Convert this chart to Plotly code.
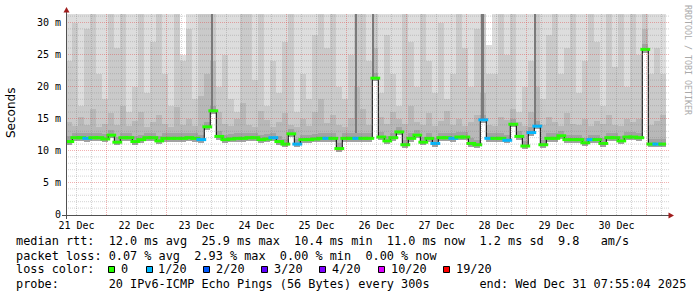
import plotly.graph_objects as go

# ---------------- data ----------------
BIN_HOURS = 2.4          # one column of smoke = 2.4 h, 100 columns = 10 days
median_ms = [11.4, 12.0, 12.0, 11.9, 12.0, 12.0, 11.8, 12.4, 11.3, 12.0,
             12.0, 11.4, 11.7, 12.0, 12.0, 11.5, 11.9, 11.9, 11.9, 11.9,
             12.0, 11.9, 11.7, 13.7, 16.2, 12.2, 11.7, 11.8, 11.9, 11.9,
             12.0, 12.0, 11.7, 11.8, 12.0, 11.4, 11.0, 12.6, 11.0, 11.7,
             11.7, 11.8, 11.9, 11.9, 11.9, 10.3, 11.9, 11.9, 11.9, 11.9,
             11.9, 21.3, 12.1, 11.5, 12.0, 12.9, 10.9, 11.9, 12.4, 11.3,
             11.9, 11.1, 12.0, 12.0, 11.9, 12.1, 12.1, 11.1, 10.9, 14.8,
             11.9, 11.9, 11.9, 11.6, 14.1, 12.2, 10.7, 12.8, 13.8, 10.9,
             11.9, 11.9, 12.3, 11.7, 11.7, 11.7, 11.2, 11.7, 11.7, 11.1,
             12.0, 12.0, 11.5, 12.1, 12.1, 12.0, 25.8, 11.0, 11.0, 11.0]
loss_of_20 = [0, 0, 0, 1, 0, 0, 0, 0, 0, 0,
              0, 0, 0, 0, 0, 0, 0, 0, 0, 0,
              0, 0, 1, 0, 0, 0, 0, 0, 0, 0,
              0, 0, 0, 0, 1, 0, 0, 0, 1, 0,
              0, 0, 0, 1, 0, 0, 0, 0, 1, 0,
              0, 0, 0, 0, 0, 0, 0, 0, 0, 0,
              0, 1, 0, 0, 1, 0, 0, 0, 0, 1,
              1, 0, 0, 1, 0, 0, 0, 1, 1, 0,
              0, 0, 0, 0, 0, 0, 0, 1, 0, 0,
              0, 0, 0, 0, 0, 0, 0, 0, 1, 0]
smoke_dark_top = [14.5, 13.8, 15.2, 14.0, 16.5, 13.6, 14.2, 15.8, 14.0, 17.0,
                  13.8, 14.6, 16.0, 13.7, 14.4, 15.5, 14.1, 13.6, 16.8, 14.0,
                  15.0, 13.9, 18.5, 22.0, 24.0, 16.0, 14.2, 13.8, 15.0, 17.5,
                  14.0, 13.6, 16.2, 14.8, 13.7, 14.5, 15.8, 14.0, 13.6, 14.9,
                  13.8, 16.0, 18.0, 14.3, 15.5, 14.0, 13.7, 15.1, 20.0, 16.5,
                  14.0, 26.0, 15.2, 14.1, 16.0, 15.0, 14.2, 17.0, 14.5, 14.0,
                  15.8, 13.9, 14.6, 16.2, 14.0, 15.0, 13.8, 14.4, 15.6, 19.0,
                  14.0, 13.9, 15.2, 14.8, 16.5, 14.4, 13.8, 16.0, 20.0, 14.0,
                  15.2, 14.5, 13.9, 15.8, 14.2, 14.0, 15.0, 13.9, 14.6, 14.1,
                  15.5, 14.0, 13.8, 15.0, 14.4, 14.9, 29.0, 14.0, 14.6, 15.5]
smoke_mid_top = [24, 30, 17, 29, 34, 22, 18, 34, 26, 34,
                 16, 20, 34, 19, 27, 34, 22, 17, 34, 24,
                 29, 18, 34, 34, 34, 20, 25, 18, 16, 34,
                 34, 21, 34, 17, 24, 19, 27, 34, 16, 22,
                 18, 28, 34, 26, 34, 20, 18, 25, 34, 34,
                 24, 34, 19, 28, 22, 17, 34, 27, 20, 34,
                 24, 19, 30, 18, 22, 34, 26, 20, 29, 34,
                 22, 22, 34, 25, 34, 16, 20, 24, 34, 18,
                 28, 34, 22, 26, 34, 19, 24, 34, 27, 17,
                 34, 23, 34, 20, 34, 25, 34, 22, 26, 22]
smoke_light_top = [34, 34, 34, 34, 34, 34, 34, 34, 34, 34,
                   34, 34, 34, 34, 34, 34, 34, 34, 34, 25,
                   34, 34, 34, 34, 34, 34, 34, 34, 34, 34,
                   34, 34, 34, 34, 34, 34, 34, 34, 34, 34,
                   34, 34, 34, 34, 34, 34, 34, 34, 34, 34,
                   34, 34, 34, 34, 34, 34, 34, 34, 34, 34,
                   34, 34, 34, 34, 34, 34, 34, 34, 34, 34,
                   26.5, 34, 29.5, 34, 34, 34, 34, 34, 34, 34,
                   34, 34, 34, 34, 34, 34, 34, 34, 34, 34,
                   34, 34, 34, 34, 34, 34, 34, 34, 34, 34]
spike_hours = [58.3, 115.9, 122.6, 166.5, 187.6]
spike_base_ms = [16.3, 12.7, 21.3, 14.8, 14.0]
spike_top_ms = [34, 34, 34, 34, 34]

day_labels = ["21 Dec", "22 Dec", "23 Dec", "24 Dec", "25 Dec",
              "26 Dec", "27 Dec", "28 Dec", "29 Dec", "30 Dec"]
first_noon_hour = 4.082       # 21 Dec 12:00 relative to start (21 Dec 07:55:04)
first_midnight_hour = 16.082
y_tick_vals = [0, 5, 10, 15, 20, 25, 30]
y_tick_text = ["0", "5 m", "10 m", "15 m", "20 m", "25 m", "30 m"]

loss_labels = ["0", "1/20", "2/20", "3/20", "4/20", "10/20", "19/20"]
loss_levels = [0, 1, 2, 3, 4, 10, 19]
loss_colors = ["#26ff00", "#00b8ff", "#0059ff", "#5e00ff", "#7e00ff", "#dd00ff", "#ff0000"]

stats_rtt = "median rtt:  12.0 ms avg  25.9 ms max  10.4 ms min  11.0 ms now  1.2 ms sd  9.8   am/s"
stats_loss = "packet loss: 0.07 % avg  2.93 % max  0.00 % min  0.00 % now"
stats_probe = "probe:       20 IPv6-ICMP Echo Pings (56 Bytes) every 300s       end: Wed Dec 31 07:55:04 2025"

# ---------------- layout geometry ----------------
W, H = 697, 297
PL, PR, PT, PB = 66, 666, 14, 215
TOTAL_HOURS = 240.0
X0 = -0.118                 # puts 6-hour grid lines on pixel centres
PX_PER_MS = 6.4
Y0 = -0.078                 # puts 5 ms grid lines on pixel centres
Y1 = Y0 + (PB - PT) / PX_PER_MS
MONO = "DejaVu Sans Mono"


def px(xp):
    return (xp - PL) / (PR - PL)


def py(yp):
    return (PB - yp) / (PB - PT)


n = len(median_ms)
centers = [(i + 0.5) * BIN_HOURS for i in range(n)]
lefts = [i * BIN_HOURS for i in range(n)]
LOW_SPREAD = 0.5
CORE_SPREAD = 0.8
base = [m - LOW_SPREAD for m in median_ms]


def loss_color(v):
    c = loss_colors[0]
    for lv, col in zip(loss_levels, loss_colors):
        if v >= lv:
            c = col
    return c


fig = go.Figure()


def smoke_layer(tops, color):
    fig.add_trace(go.Bar(
        x=centers, y=[t - b for t, b in zip(tops, base)], base=base,
        width=BIN_HOURS, marker=dict(color=color, line=dict(width=0)),
        hoverinfo="skip", showlegend=False))


smoke_layer(smoke_light_top, "#dddddd")
smoke_layer(smoke_mid_top, "#cacaca")
smoke_layer(smoke_dark_top, "#b8b8b8")
smoke_layer([m + CORE_SPREAD for m in median_ms], "#a2a2a2")

fig.add_trace(go.Bar(
    x=spike_hours, y=[t - b for t, b in zip(spike_top_ms, spike_base_ms)],
    base=spike_base_ms, width=0.9,
    marker=dict(color="#7a7a7a", line=dict(width=0)),
    hoverinfo="skip", showlegend=False))

fig.add_trace(go.Scatter(
    x=lefts + [TOTAL_HOURS], y=median_ms + [median_ms[-1]], mode="lines",
    line=dict(color="#000000", width=1, shape="hv"),
    hoverinfo="skip", showlegend=False))

fig.add_trace(go.Scatter(
    x=centers, y=median_ms, mode="markers",
    marker=dict(symbol="line-ew", size=7,
                line=dict(width=3, color=[loss_color(v) for v in loss_of_20])),
    hoverinfo="skip", showlegend=False))

# ---------------- grid (drawn above the smoke, like rrdtool) ----------------
shapes = []
MINOR = "rgba(120,120,120,0.32)"
MAJOR = "rgba(225,70,70,0.42)"
DASH = "1px,1px"
h = first_midnight_hour - 12
while h < TOTAL_HOURS + X0:
    is_major = abs(((h - first_midnight_hour) % 24)) < 1e-6
    shapes.append(dict(type="line", xref="x", yref="paper", x0=h, x1=h, y0=0, y1=1,
                       line=dict(color=MAJOR if is_major else MINOR, width=1, dash=DASH),
                       layer="above"))
    h += 6
for v in range(1, 32):
    if v > Y1:
        break
    shapes.append(dict(type="line", xref="paper", yref="y", x0=0, x1=px(669), y0=v, y1=v,
                       line=dict(color=MAJOR if v % 5 == 0 else MINOR, width=1, dash=DASH),
                       layer="above"))

# axes lines & arrows
AX = "#505050"
ARROW = "#a01c1c"
shapes.append(dict(type="line", xref="paper", yref="paper", x0=px(62), x1=px(669),
                   y0=py(215.5), y1=py(215.5), line=dict(color=AX, width=1), layer="above"))
shapes.append(dict(type="line", xref="paper", yref="paper", x0=px(66.5), x1=px(66.5),
                   y0=py(219), y1=py(11), line=dict(color=AX, width=1), layer="above"))
shapes.append(dict(type="path", xref="paper", yref="paper",
                   path=f"M {px(66.5)} {py(7)} L {px(63.5)} {py(12.5)} L {px(69.5)} {py(12.5)} Z",
                   fillcolor=ARROW, line=dict(width=0), layer="above"))
shapes.append(dict(type="path", xref="paper", yref="paper",
                   path=f"M {px(674)} {py(215.5)} L {px(668.5)} {py(212.5)} L {px(668.5)} {py(218.5)} Z",
                   fillcolor=ARROW, line=dict(width=0), layer="above"))

# loss colour boxes
box_left_px = [108.3, 145.7, 203.3, 261.0, 319.0, 378.3, 443.3]
for bx, col in zip(box_left_px, loss_colors):
    shapes.append(dict(type="rect", xref="paper", yref="paper",
                       x0=px(round(bx) + 0.5), x1=px(round(bx) + 6.5), y0=py(266.5), y1=py(272.5),
                       fillcolor=col, line=dict(color="#000000", width=1), layer="above"))

annotations = []


def text(s, x, y, size=11.85, family=MONO, color="#000000", anchor="left", angle=0):
    annotations.append(dict(text=s.replace(" ", "\u00a0"), x=px(x), y=py(y),
                            xref="paper", yref="paper", xanchor=anchor, yanchor="middle",
                            showarrow=False, textangle=angle, borderpad=0,
                            font=dict(family=family, size=size, color=color)))


text(stats_rtt, 15, 241)
text(stats_loss, 15, 255.5)
text("loss color:", 15, 269)
for bx, lab in zip(box_left_px, loss_labels):
    text(lab, bx + 11.5, 269)
text(stats_probe, 15, 283.5)
text("Seconds", 11, 113, size=12, family="DejaVu Sans", anchor="center", angle=-90)
text("RRDTOOL / TOBI OETIKER", 688, 60, size=8.3, color="#aaaaaa", anchor="center", angle=90)

fig.update_layout(
    width=W, height=H,
    margin=dict(l=PL, r=W - PR, t=PT, b=H - PB),
    paper_bgcolor="#ffffff", plot_bgcolor="#ffffff",
    barmode="overlay", bargap=0,
    showlegend=False,
    shapes=shapes, annotations=annotations,
    xaxis=dict(range=[X0, TOTAL_HOURS + X0], showgrid=False, zeroline=False, showline=False,
               tickmode="array",
               tickvals=[first_noon_hour + 24 * k for k in range(len(day_labels))],
               ticktext=day_labels, ticks="", ticklabelstandoff=3,
               tickfont=dict(family=MONO, size=10, color="#000000"), fixedrange=True),
    yaxis=dict(range=[Y0, Y1], showgrid=False, zeroline=False, showline=False,
               tickmode="array", tickvals=y_tick_vals, ticktext=y_tick_text,
               ticks="", ticklabelstandoff=4,
               tickfont=dict(family=MONO, size=10, color="#000000"), fixedrange=True),
)

fig.write_html("out.html")
